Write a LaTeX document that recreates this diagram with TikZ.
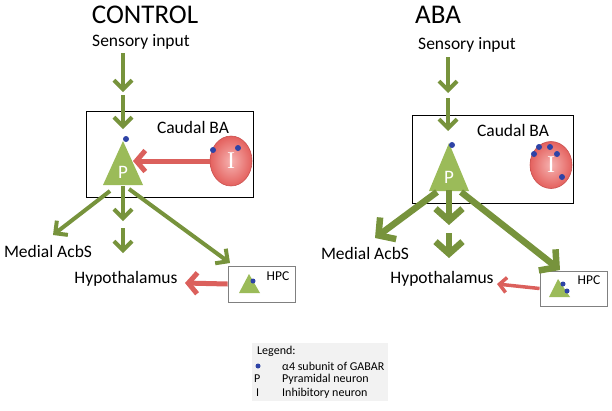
\documentclass[tikz,border=0pt]{standalone}
\usepackage{fontspec}
\setmainfont{Carlito}
\newfontfamily\serifI{Liberation Serif}
\usetikzlibrary{arrows.meta,shapes.geometric}
\definecolor{garrow}{HTML}{77933C}
\definecolor{gtri}{HTML}{9BBB59}
\definecolor{rarrow}{HTML}{DB605C}
\definecolor{rdark}{HTML}{C9504E}
\definecolor{rlight}{HTML}{F6B3B1}
\definecolor{rout}{HTML}{E4615E}
\definecolor{bdot}{HTML}{2E43A6}
\definecolor{legbg}{HTML}{F2F2F2}
\begin{document}
\begin{tikzpicture}[x=1pt,y=-1pt,
  lbl/.style={inner sep=0pt, font=\fontsize{17.5}{20}\selectfont},
  ttl/.style={inner sep=0pt, font=\fontsize{27}{30}\selectfont},
  small/.style={inner sep=0pt, font=\fontsize{13.5}{15}\selectfont},
  leg/.style={inner sep=0pt, anchor=west, font=\fontsize{12}{13}\selectfont},
  region/.style={draw=black, line width=1pt, inner sep=0pt},
  hpcbox/.style={draw=black!50, line width=0.9pt, fill=white, inner sep=0pt},
  garc/.style={draw=garrow, line width=4pt, -{Straight Barb[length=9pt,width=18pt]}},
  garb/.style={draw=garrow, line width=6.5pt, -{Straight Barb[length=12pt,width=27pt]}},
  rarc/.style={draw=rarrow, line width=5pt, -{Straight Barb[length=9pt,width=21pt]}},
  rarb/.style={draw=rarrow, line width=3.5pt, -{Straight Barb[length=7pt,width=15pt]}},
  tri/.style={fill=gtri},
  dot/.style={circle, fill=bdot, inner sep=0pt, minimum size=6pt},
  inh/.style={ellipse, draw=rdark, line width=0.6pt, inner color=rlight, outer color=rout, inner sep=0pt, text=white, font=\serifI\fontsize{24}{26}\selectfont},
  plabel/.style={inner sep=0pt, text=white, font=\fontsize{19}{21}\selectfont}
]
\path[use as bounding box] (0,0) rectangle (612,410);

% ================= CONTROL =================
\node[ttl] (titleC) at (145,15) {CONTROL};
\node[lbl] (sensC) at (141,42) {Sensory input};
\node[region, minimum width=167pt, minimum height=86pt] (baC) at (169.5,154) {};
\node[lbl] (cbaC) at (193,127) {Caudal BA};
\fill[tri] (123,141) -- (103,185) -- (143,185) -- cycle;
\node[plabel] (PC) at (123,172) {P};
\node[dot] (dPC) at (126,139) {};
\node[inh, minimum width=42pt, minimum height=50pt] (IC) at (231,161) {I};
\node[dot] (dIC1) at (213,150) {};
\node[dot] (dIC2) at (238,148) {};
\node[lbl] (macC) at (48,251) {Medial AcbS};
\node[lbl] (hypC) at (126,279) {Hypothalamus};
\node[hpcbox, minimum width=67pt, minimum height=36pt] (hpcC) at (261.5,284) {};
\node[small] (hpcCt) at (278,276) {HPC};
\fill[tri] (249,274) -- (239,293) -- (260,293) -- cycle;
\node[dot, minimum size=5pt] (dHC) at (253,281) {};

\coordinate (c1a) at (123,53);  \coordinate (c1b) at (123,92);
\coordinate (c2a) at (123,95);  \coordinate (c2b) at (123,129);
\coordinate (cl0) at (110,191); \coordinate (cl1) at (53,235);
\coordinate (cm0) at (123,186); \coordinate (cm1) at (123,221);
\coordinate (cn0) at (123,228); \coordinate (cn1) at (123,253);
\coordinate (cr0) at (129,189); \coordinate (cr1) at (230,263);
\coordinate (ci1) at (133,161);
\coordinate (ch1) at (185,283);

\draw[garc] (c1a) -- (c1b);
\draw[garc] (c2a) -- (c2b);
\draw[rarc] (IC.west) -- (ci1);
\draw[garc] (cl0) -- (cl1);
\draw[garc] (cm0) -- (cm1);
\draw[garc] (cn0) -- (cn1);
\draw[garc] (cr0) -- (cr1);
\draw[rarc] (hpcC.west) -- (ch1);

% ================= ABA =================
\node[ttl] (titleA) at (438,15) {ABA};
\node[lbl] (sensA) at (467,45) {Sensory input};
\node[region, minimum width=161pt, minimum height=88pt] (baA) at (492.5,159) {};
\node[lbl] (cbaA) at (513,130) {Caudal BA};
\fill[tri] (449,143) -- (429,191) -- (469,191) -- cycle;
\node[plabel] (PA) at (449,177) {P};
\node[dot] (dPA) at (452,145) {};
\node[inh, minimum width=42pt, minimum height=47pt] (IA) at (551,165) {I};
\node[dot] (dIA1) at (539,147) {};
\node[dot] (dIA2) at (550,147) {};
\node[dot] (dIA3) at (534,154) {};
\node[dot] (dIA4) at (557,154) {};
\node[dot] (dIA5) at (562,177) {};
\node[lbl] (macA) at (365,253) {Medial AcbS};
\node[lbl] (hypA) at (442,279) {Hypothalamus};
\node[hpcbox, minimum width=67pt, minimum height=35pt] (hpcA) at (573.5,288.5) {};
\node[small] (hpcAt) at (589,280) {HPC};
\fill[tri] (558,279) -- (549,297) -- (570,297) -- cycle;
\node[dot, minimum size=5pt] (dHA1) at (563,284) {};
\node[dot, minimum size=5pt] (dHA2) at (567,291) {};

\coordinate (a1a) at (448,57);  \coordinate (a1b) at (448,93);
\coordinate (a2a) at (448,98);  \coordinate (a2b) at (448,131);
\coordinate (al0) at (437,192); \coordinate (al1) at (375,238);
\coordinate (am0) at (449,190); \coordinate (am1) at (449,225);
\coordinate (an0) at (449,233); \coordinate (an1) at (449,258);
\coordinate (ar0) at (461,192); \coordinate (ar1) at (560,270);
\coordinate (ah1) at (497,284);

\draw[garc] (a1a) -- (a1b);
\draw[garc] (a2a) -- (a2b);
\draw[garb] (al0) -- (al1);
\draw[garb] (am0) -- (am1);
\draw[garb] (an0) -- (an1);
\draw[garb] (ar0) -- (ar1);
\draw[rarb] (hpcA.west) -- (ah1);

% ================= Legend =================
\node[fill=legbg, inner sep=0pt, minimum width=136pt, minimum height=58pt] (legbox) at (320,372) {};
\node[leg] (legT) at (257,351) {Legend:};
\node[dot, minimum size=5pt] (legD) at (258,366) {};
\node[leg] (legDt) at (282,366) {α4 subunit of GABAR};
\node[leg] (legP) at (254,379) {P};
\node[leg] (legPt) at (282,379) {Pyramidal neuron};
\node[leg] (legI) at (256,393) {I};
\node[leg] (legIt) at (282,393) {Inhibitory neuron};
\end{tikzpicture}
\end{document}
